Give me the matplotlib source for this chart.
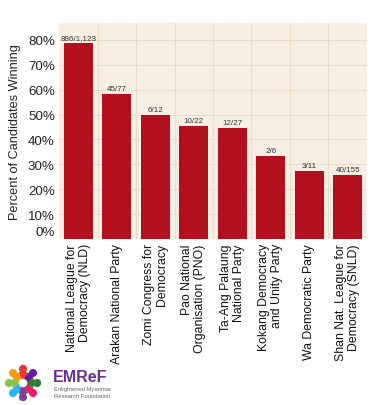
import matplotlib
matplotlib.use("Agg")
import matplotlib.pyplot as plt
import matplotlib.transforms as mtransforms
import numpy as np
from matplotlib.patches import Circle, Wedge

plt.rcParams['font.family'] = ['Liberation Sans', 'DejaVu Sans']

parties = ["National League for\nDemocracy (NLD)", "Arakan National Party",
           "Zomi Congress for\nDemocracy", "Pao National\nOrganisation (PNO)",
           "Ta-Ang Palaung\nNational Party", "Kokang Democracy\nand Unity Party",
           "Wa Democratic Party", "Shan Nat. League for\nDemocracy (SNLD)"]
won = [886, 45, 6, 10, 12, 2, 3, 40]
contested = [1123, 77, 12, 22, 27, 6, 11, 155]
bar_labels = ["886/1,123", "45/77", "6/12", "10/22", "12/27", "2/6", "3/11", "40/155"]
y_ticks = [0, 10, 20, 30, 40, 50, 60, 70, 80]

pct = [100.0 * w / c for w, c in zip(won, contested)]

W, H = 378, 406
fig = plt.figure(figsize=(W / 100, H / 100), dpi=100)
ax = fig.add_axes([59 / W, 1 - 240 / H, (367 - 59) / W, (240 - 24) / H])
ax.set_facecolor('#F8EFE4')
x = np.arange(len(parties))
ax.bar(x, pct, width=0.75, color='#B30F1F', zorder=3)
for xi, p, lab in zip(x, pct, bar_labels):
    ax.text(xi, p + 0.8, lab, ha='center', va='bottom', fontsize=5.8, color='#333333', zorder=4)
ax.set_xlim(-0.5, len(parties) - 0.5)
ax.set_ylim(0, 86.8)
ax.set_yticks(y_ticks)
ax.set_yticklabels([f"{t}%" for t in y_ticks], fontsize=9.6, color='#222222')
ax.set_xticks(x)
ax.set_xticklabels(parties, rotation=90, ha='center', va='top', fontsize=8.8,
                   multialignment='right', color='#111111', linespacing=1.12)
ax.set_xticks(x[:-1] + 0.5, minor=True)
ax.grid(which='major', axis='y', color='#EADCCB', linewidth=0.8, zorder=0)
ax.grid(which='minor', axis='x', color='#EADCCB', linewidth=0.8, zorder=0)
ax.tick_params(axis='both', which='both', length=0, pad=3)
for s in ax.spines.values():
    s.set_visible(False)
ax.set_ylabel("Percent of Candidates Winning", fontsize=9.2, color='#222222', labelpad=5)

# lift the 0% label slightly, as in the reference
zl = ax.get_yticklabels()[0]
zl.set_transform(zl.get_transform() + mtransforms.ScaledTranslation(0, 8 / 100, fig.dpi_scale_trans))

# logo
lax = fig.add_axes([2 / W, 1 - 404 / H, 42 / W, 40 / H])
lax.set_xlim(-1.2, 1.2)
lax.set_ylim(-1.2, 1.2)
lax.set_aspect('equal')
lax.axis('off')
cols = ['#E53935', '#F39C12', '#8BC34A', '#29B6F6', '#7B3FA0', '#E91E63', '#2E7D32', '#6A1B9A']
for i, c in enumerate(cols):
    a = np.deg2rad(90 + i * 45)
    lax.add_patch(Circle((0.85 * np.cos(a), 0.85 * np.sin(a)), 0.2, color=c))
    lax.add_patch(Wedge((0, 0), 0.65, 90 + i * 45 - 18, 90 + i * 45 + 18, color=c, width=0.35))
fig.text(53 / W, 1 - 378 / H, "EMReF", fontsize=11.5, fontweight='bold', color='#6A2C91', va='center')
fig.text(54 / W, 1 - 390 / H, "Enlightened Myanmar", fontsize=4.2, color='#666666', va='center')
fig.text(54 / W, 1 - 397 / H, "Research Foundation", fontsize=4.2, color='#666666', va='center')

fig.savefig("out.png", dpi=100, facecolor='white')
